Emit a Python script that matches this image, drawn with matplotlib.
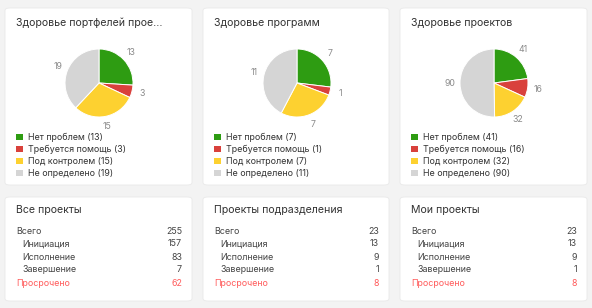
import matplotlib.pyplot as plt
from matplotlib.patches import FancyBboxPatch

plt.rcParams['font.family'] = ['Inter', 'DejaVu Sans']

# data
pie_titles = ['Здоровье портфелей прое...', 'Здоровье программ', 'Здоровье проектов']
status_labels = ['Нет проблем', 'Требуется помощь', 'Под контролем', 'Не определено']
portfolio_health = [13, 3, 15, 19]
program_health = [7, 1, 7, 11]
project_health = [41, 16, 32, 90]
status_colors = ['#2e9c12', '#d9413c', '#fdd130', '#d5d5d5']

table_titles = ['Все проекты', 'Проекты подразделения', 'Мои проекты']
row_labels = ['Всего', 'Инициация', 'Исполнение', 'Завершение', 'Просрочено']
all_projects = [255, 157, 83, 7, 62]
dept_projects = [23, 13, 9, 1, 8]
my_projects = [23, 13, 9, 1, 8]

W, H = 592, 308
fig = plt.figure(figsize=(W / 100, H / 100), dpi=100, facecolor='#f3f3f3')


def fx(x):
    return x / W


def fy(y):
    return 1 - y / H


def card(x0, y0, x1, y1):
    p = FancyBboxPatch((fx(x0), fy(y1)), fx(x1 - x0), (y1 - y0) / H,
                       boxstyle='round,pad=0,rounding_size=0.008',
                       transform=fig.transFigure, facecolor='white',
                       edgecolor='#e9e9e9', linewidth=0.6, zorder=-5)
    fig.patches.append(p)


card_lefts = [5, 203, 400]
card_rights = [192, 389, 587]
pie_data = [portfolio_health, program_health, project_health]
table_data = [all_projects, dept_projects, my_projects]

for i in range(3):
    left, right = card_lefts[i], card_rights[i]
    card(left, 8, right, 185)
    fig.text(fx(left + 11), fy(23), pie_titles[i], fontsize=7.6,
             color='#333333', va='center', ha='left')

    cx = left + 94
    cy = 83
    r = 34
    ax = fig.add_axes([fx(cx - r), fy(cy + r), 2 * r / W, 2 * r / H])
    ax.set_zorder(2)
    vals = pie_data[i]
    wedges, texts = ax.pie(vals, colors=status_colors, startangle=90,
                           counterclock=False, labels=[str(v) for v in vals],
                           labeldistance=1.3,
                           wedgeprops=dict(edgecolor='white', linewidth=0.7),
                           textprops=dict(fontsize=6.3, color='#8a8a8a'))
    for t in texts:
        t.set_ha('center')
        t.set_va('center')
        t.set_clip_on(False)
    ax.set_xlim(-1, 1)
    ax.set_ylim(-1, 1)

    leg = fig.legend(wedges, ['%s (%d)' % (l, v) for l, v in zip(status_labels, vals)],
                     loc='upper left', bbox_to_anchor=(fx(left + 11), fy(133)),
                     frameon=False, fontsize=6.4, handlelength=0.75,
                     handleheight=0.75, handletextpad=0.55, labelspacing=0.32,
                     borderpad=0, borderaxespad=0)
    for t in leg.get_texts():
        t.set_color('#333333')
    for h in leg.legend_handles:
        h.set_edgecolor('none')

    # bottom cards
    card(left, 197, right, 301)
    fig.text(fx(left + 11), fy(210), table_titles[i], fontsize=7.6,
             color='#333333', va='center', ha='left')
    for j, (lab, val) in enumerate(zip(row_labels, table_data[i])):
        y = 231 + j * 13
        color = '#ff5b5b' if j == len(row_labels) - 1 else '#444444'
        indent = 6 if 0 < j < len(row_labels) - 1 else 0
        fig.text(fx(left + 11 + indent), fy(y), lab, fontsize=6.4,
                 color=color, va='center', ha='left')
        fig.text(fx(right - 10), fy(y), str(val), fontsize=6.4,
                 color=color, va='center', ha='right')

fig.savefig('out.png', dpi=100, facecolor=fig.get_facecolor())
